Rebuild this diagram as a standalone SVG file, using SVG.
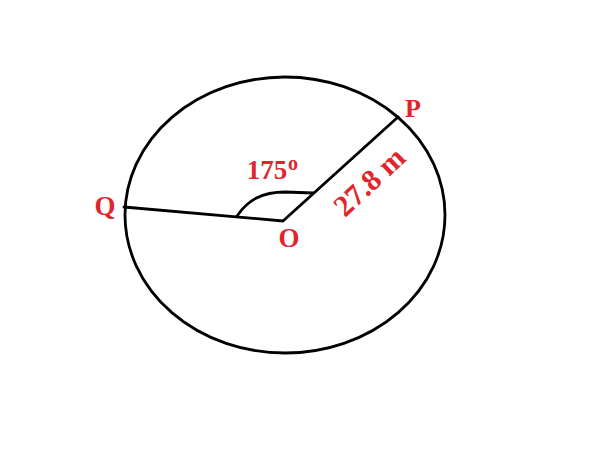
<svg xmlns="http://www.w3.org/2000/svg" width="600" height="450" viewBox="0 0 600 450">
<style>
.ln{fill:none;stroke:#000;stroke-width:2.8;stroke-linecap:round;stroke-linejoin:round}
.lb{font-family:"Liberation Serif","Times New Roman",serif;font-weight:bold;fill:#e0262c}
</style>
<rect width="600" height="450" fill="#fff"/>
<g id="circle"><ellipse class="ln" cx="285" cy="215" rx="160" ry="138"/></g>
<g id="connectors">
<path class="ln" d="M124,207 L283,221 L398,117"/>
<path class="ln" d="M237,216 C248,200 262,192 285,192 L313,193"/>
</g>
<g id="O"><text class="lb" x="289" y="247" font-size="27" text-anchor="middle">O</text></g>
<g id="P"><text class="lb" x="413" y="117" font-size="26" text-anchor="middle">P</text></g>
<g id="Q"><text class="lb" x="105" y="215" font-size="27" text-anchor="middle">Q</text></g>
<g id="angle"><text class="lb" x="267" y="179" font-size="27" text-anchor="middle">175</text><text class="lb" x="293" y="170" font-size="20" text-anchor="middle">o</text></g>
<g id="length"><text class="lb" x="345" y="218" font-size="30" transform="rotate(-43 345 218)">27.8 m</text></g>
</svg>
